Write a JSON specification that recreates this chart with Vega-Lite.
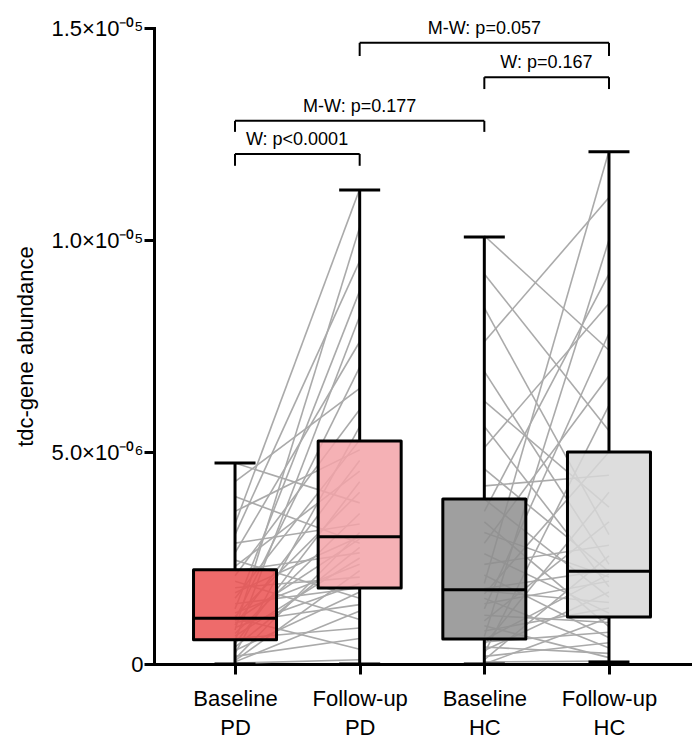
{
  "$schema": "https://vega.github.io/schema/vega-lite/v6.json",
  "width": 536,
  "height": 636,
  "autosize": {"type": "none"},
  "padding": {"left": 154, "top": 28, "right": 3, "bottom": 74},
  "config": {"view": {"stroke": null}, "font": "Liberation Sans"},
  "datasets": {
    "pairs": [
      {"id":"P1","c":"Baseline PD","v":0.02e-6},{"id":"P1","c":"Follow-up PD","v":0.10e-6},
      {"id":"P2","c":"Baseline PD","v":0.05e-6},{"id":"P2","c":"Follow-up PD","v":1.25e-6},
      {"id":"P3","c":"Baseline PD","v":0.08e-6},{"id":"P3","c":"Follow-up PD","v":2.20e-6},
      {"id":"P4","c":"Baseline PD","v":0.12e-6},{"id":"P4","c":"Follow-up PD","v":3.10e-6},
      {"id":"P5","c":"Baseline PD","v":0.18e-6},{"id":"P5","c":"Follow-up PD","v":0.60e-6},
      {"id":"P6","c":"Baseline PD","v":0.25e-6},{"id":"P6","c":"Follow-up PD","v":5.60e-6},
      {"id":"P7","c":"Baseline PD","v":0.32e-6},{"id":"P7","c":"Follow-up PD","v":1.70e-6},
      {"id":"P8","c":"Baseline PD","v":0.40e-6},{"id":"P8","c":"Follow-up PD","v":2.75e-6},
      {"id":"P9","c":"Baseline PD","v":0.48e-6},{"id":"P9","c":"Follow-up PD","v":4.30e-6},
      {"id":"P10","c":"Baseline PD","v":0.55e-6},{"id":"P10","c":"Follow-up PD","v":8.20e-6},
      {"id":"P11","c":"Baseline PD","v":0.60e-6},{"id":"P11","c":"Follow-up PD","v":0.85e-6},
      {"id":"P12","c":"Baseline PD","v":0.66e-6},{"id":"P12","c":"Follow-up PD","v":2.50e-6},
      {"id":"P13","c":"Baseline PD","v":0.72e-6},{"id":"P13","c":"Follow-up PD","v":3.55e-6},
      {"id":"P14","c":"Baseline PD","v":0.80e-6},{"id":"P14","c":"Follow-up PD","v":10.3e-6},
      {"id":"P15","c":"Baseline PD","v":0.86e-6},{"id":"P15","c":"Follow-up PD","v":1.90e-6},
      {"id":"P16","c":"Baseline PD","v":0.92e-6},{"id":"P16","c":"Follow-up PD","v":4.80e-6},
      {"id":"P17","c":"Baseline PD","v":0.98e-6},{"id":"P17","c":"Follow-up PD","v":1.40e-6},
      {"id":"P18","c":"Baseline PD","v":1.02e-6},{"id":"P18","c":"Follow-up PD","v":2.95e-6},
      {"id":"P19","c":"Baseline PD","v":1.05e-6},{"id":"P19","c":"Follow-up PD","v":7.00e-6},
      {"id":"P20","c":"Baseline PD","v":1.08e-6},{"id":"P20","c":"Follow-up PD","v":0.35e-6},
      {"id":"P21","c":"Baseline PD","v":1.12e-6},{"id":"P21","c":"Follow-up PD","v":4.05e-6},
      {"id":"P22","c":"Baseline PD","v":1.20e-6},{"id":"P22","c":"Follow-up PD","v":2.35e-6},
      {"id":"P23","c":"Baseline PD","v":1.30e-6},{"id":"P23","c":"Follow-up PD","v":8.80e-6},
      {"id":"P24","c":"Baseline PD","v":1.42e-6},{"id":"P24","c":"Follow-up PD","v":1.80e-6},
      {"id":"P25","c":"Baseline PD","v":1.55e-6},{"id":"P25","c":"Follow-up PD","v":5.28e-6},
      {"id":"P26","c":"Baseline PD","v":1.68e-6},{"id":"P26","c":"Follow-up PD","v":3.00e-6},
      {"id":"P27","c":"Baseline PD","v":1.80e-6},{"id":"P27","c":"Follow-up PD","v":2.05e-6},
      {"id":"P28","c":"Baseline PD","v":1.95e-6},{"id":"P28","c":"Follow-up PD","v":1.05e-6},
      {"id":"P29","c":"Baseline PD","v":2.08e-6},{"id":"P29","c":"Follow-up PD","v":6.00e-6},
      {"id":"P30","c":"Baseline PD","v":2.20e-6},{"id":"P30","c":"Follow-up PD","v":2.62e-6},
      {"id":"P31","c":"Baseline PD","v":2.30e-6},{"id":"P31","c":"Follow-up PD","v":4.55e-6},
      {"id":"P32","c":"Baseline PD","v":2.45e-6},{"id":"P32","c":"Follow-up PD","v":1.55e-6},
      {"id":"P33","c":"Baseline PD","v":2.62e-6},{"id":"P33","c":"Follow-up PD","v":7.60e-6},
      {"id":"P34","c":"Baseline PD","v":2.85e-6},{"id":"P34","c":"Follow-up PD","v":3.30e-6},
      {"id":"P35","c":"Baseline PD","v":3.05e-6},{"id":"P35","c":"Follow-up PD","v":9.50e-6},
      {"id":"P36","c":"Baseline PD","v":3.30e-6},{"id":"P36","c":"Follow-up PD","v":11.2e-6},
      {"id":"P37","c":"Baseline PD","v":3.60e-6},{"id":"P37","c":"Follow-up PD","v":5.05e-6},
      {"id":"P38","c":"Baseline PD","v":3.95e-6},{"id":"P38","c":"Follow-up PD","v":2.85e-6},
      {"id":"P39","c":"Baseline PD","v":4.30e-6},{"id":"P39","c":"Follow-up PD","v":6.50e-6},
      {"id":"P40","c":"Baseline PD","v":4.74e-6},{"id":"P40","c":"Follow-up PD","v":3.80e-6},
      {"id":"H1","c":"Baseline HC","v":0.00e-6},{"id":"H1","c":"Follow-up HC","v":1.09e-6},
      {"id":"H2","c":"Baseline HC","v":0.05e-6},{"id":"H2","c":"Follow-up HC","v":0.07e-6},
      {"id":"H3","c":"Baseline HC","v":0.10e-6},{"id":"H3","c":"Follow-up HC","v":2.55e-6},
      {"id":"H4","c":"Baseline HC","v":0.18e-6},{"id":"H4","c":"Follow-up HC","v":0.50e-6},
      {"id":"H5","c":"Baseline HC","v":0.25e-6},{"id":"H5","c":"Follow-up HC","v":6.10e-6},
      {"id":"H6","c":"Baseline HC","v":0.32e-6},{"id":"H6","c":"Follow-up HC","v":1.70e-6},
      {"id":"H7","c":"Baseline HC","v":0.40e-6},{"id":"H7","c":"Follow-up HC","v":0.25e-6},
      {"id":"H8","c":"Baseline HC","v":0.46e-6},{"id":"H8","c":"Follow-up HC","v":4.05e-6},
      {"id":"H9","c":"Baseline HC","v":0.52e-6},{"id":"H9","c":"Follow-up HC","v":0.75e-6},
      {"id":"H10","c":"Baseline HC","v":0.57e-6},{"id":"H10","c":"Follow-up HC","v":2.12e-6},
      {"id":"H11","c":"Baseline HC","v":0.65e-6},{"id":"H11","c":"Follow-up HC","v":10.0e-6},
      {"id":"H12","c":"Baseline HC","v":0.78e-6},{"id":"H12","c":"Follow-up HC","v":1.32e-6},
      {"id":"H13","c":"Baseline HC","v":0.90e-6},{"id":"H13","c":"Follow-up HC","v":0.15e-6},
      {"id":"H14","c":"Baseline HC","v":1.02e-6},{"id":"H14","c":"Follow-up HC","v":3.35e-6},
      {"id":"H15","c":"Baseline HC","v":1.15e-6},{"id":"H15","c":"Follow-up HC","v":0.98e-6},
      {"id":"H16","c":"Baseline HC","v":1.30e-6},{"id":"H16","c":"Follow-up HC","v":7.80e-6},
      {"id":"H17","c":"Baseline HC","v":1.42e-6},{"id":"H17","c":"Follow-up HC","v":1.95e-6},
      {"id":"H18","c":"Baseline HC","v":1.55e-6},{"id":"H18","c":"Follow-up HC","v":0.38e-6},
      {"id":"H19","c":"Baseline HC","v":1.65e-6},{"id":"H19","c":"Follow-up HC","v":5.00e-6},
      {"id":"H20","c":"Baseline HC","v":1.72e-6},{"id":"H20","c":"Follow-up HC","v":1.45e-6},
      {"id":"H21","c":"Baseline HC","v":1.78e-6},{"id":"H21","c":"Follow-up HC","v":2.22e-6},
      {"id":"H22","c":"Baseline HC","v":1.90e-6},{"id":"H22","c":"Follow-up HC","v":12.1e-6},
      {"id":"H23","c":"Baseline HC","v":2.10e-6},{"id":"H23","c":"Follow-up HC","v":0.62e-6},
      {"id":"H24","c":"Baseline HC","v":2.35e-6},{"id":"H24","c":"Follow-up HC","v":2.80e-6},
      {"id":"H25","c":"Baseline HC","v":2.60e-6},{"id":"H25","c":"Follow-up HC","v":1.20e-6},
      {"id":"H26","c":"Baseline HC","v":2.85e-6},{"id":"H26","c":"Follow-up HC","v":6.80e-6},
      {"id":"H27","c":"Baseline HC","v":3.10e-6},{"id":"H27","c":"Follow-up HC","v":2.05e-6},
      {"id":"H28","c":"Baseline HC","v":3.35e-6},{"id":"H28","c":"Follow-up HC","v":0.88e-6},
      {"id":"H29","c":"Baseline HC","v":3.60e-6},{"id":"H29","c":"Follow-up HC","v":9.20e-6},
      {"id":"H30","c":"Baseline HC","v":3.89e-6},{"id":"H30","c":"Follow-up HC","v":1.58e-6},
      {"id":"H31","c":"Baseline HC","v":4.20e-6},{"id":"H31","c":"Follow-up HC","v":4.45e-6},
      {"id":"H32","c":"Baseline HC","v":4.60e-6},{"id":"H32","c":"Follow-up HC","v":2.18e-6},
      {"id":"H33","c":"Baseline HC","v":5.10e-6},{"id":"H33","c":"Follow-up HC","v":8.50e-6},
      {"id":"H34","c":"Baseline HC","v":5.60e-6},{"id":"H34","c":"Follow-up HC","v":1.82e-6},
      {"id":"H35","c":"Baseline HC","v":6.20e-6},{"id":"H35","c":"Follow-up HC","v":3.70e-6},
      {"id":"H36","c":"Baseline HC","v":6.90e-6},{"id":"H36","c":"Follow-up HC","v":2.35e-6},
      {"id":"H37","c":"Baseline HC","v":7.60e-6},{"id":"H37","c":"Follow-up HC","v":11.0e-6},
      {"id":"H38","c":"Baseline HC","v":8.40e-6},{"id":"H38","c":"Follow-up HC","v":3.05e-6},
      {"id":"H39","c":"Baseline HC","v":9.20e-6},{"id":"H39","c":"Follow-up HC","v":5.50e-6},
      {"id":"H40","c":"Baseline HC","v":10.1e-6},{"id":"H40","c":"Follow-up HC","v":7.40e-6}
    ],
    "stats": [
      {"c":"Baseline PD","min":0.0,"q1":0.57e-6,"median":1.08e-6,"q3":2.22e-6,"max":4.74e-6},
      {"c":"Follow-up PD","min":0.0,"q1":1.79e-6,"median":3.0e-6,"q3":5.26e-6,"max":11.18e-6},
      {"c":"Baseline HC","min":0.0,"q1":0.59e-6,"median":1.75e-6,"q3":3.89e-6,"max":10.07e-6},
      {"c":"Follow-up HC","min":0.05e-6,"q1":1.11e-6,"median":2.19e-6,"q3":5.0e-6,"max":12.08e-6}
    ],
    "brackets": [
      {"test":"W","label":"W: p<0.0001","from":"Baseline PD","to":"Follow-up PD","mid":"Baseline PD","yt":12.03e-6,"yb":11.75e-6,"ty":12.36e-6},
      {"test":"M-W","label":"M-W: p=0.177","from":"Baseline PD","to":"Baseline HC","mid":"Follow-up PD","yt":12.81e-6,"yb":12.55e-6,"ty":13.14e-6},
      {"test":"W","label":"W: p=0.167","from":"Baseline HC","to":"Follow-up HC","mid":"Baseline HC","yt":13.84e-6,"yb":13.56e-6,"ty":14.17e-6},
      {"test":"M-W","label":"M-W: p=0.057","from":"Follow-up PD","to":"Follow-up HC","mid":"Baseline HC","yt":14.65e-6,"yb":14.34e-6,"ty":14.98e-6}
    ]
  },
  "layer": [
    {
      "data": {"name": "pairs"},
      "mark": {"type": "line", "color": "#aaaaaa", "strokeWidth": 1.6},
      "encoding": {
        "x": {
          "field": "c", "type": "nominal",
          "scale": {"type": "point", "domain": ["Baseline PD", "Follow-up PD", "Baseline HC", "Follow-up HC"], "padding": 0.65},
          "axis": {
            "title": null, "labelAngle": 0, "labelExpr": "split(datum.label, ' ')",
            "labelFontSize": 22, "labelColor": "black", "labelLineHeight": 29, "labelPadding": 14, "labelBaseline": "top",
            "tickSize": 10, "tickWidth": 3, "tickColor": "black", "domainWidth": 3, "domainColor": "black", "domainCap": "square"
          }
        },
        "y": {
          "field": "v", "type": "quantitative",
          "scale": {"domain": [0, 1.5e-5], "nice": false},
          "axis": {
            "title": "tdc-gene abundance", "titleFontSize": 22, "titleFontWeight": "normal", "titleColor": "black", "titlePadding": 13,
            "values": [0, 5e-6, 1e-5, 1.5e-5],
            "labelExpr": "datum.value == 0 ? '0' : (datum.value < 7e-6 ? '5.0×10⁻⁰⁶' : (datum.value < 1.2e-5 ? '1.0×10⁻⁰⁵' : '1.5×10⁻⁰⁵'))",
            "labelFontSize": 22, "labelColor": "black", "labelPadding": 1,
            "tickSize": 10, "tickWidth": 3, "tickColor": "black", "domainWidth": 3, "domainColor": "black", "domainCap": "square", "grid": false
          }
        },
        "detail": {"field": "id"}
      }
    },
    {
      "data": {"name": "stats"},
      "mark": {"type": "rule", "color": "black", "strokeWidth": 3},
      "encoding": {"x": {"field": "c", "type": "nominal"}, "y": {"field": "min", "type": "quantitative"}, "y2": {"field": "q1"}}
    },
    {
      "data": {"name": "stats"},
      "mark": {"type": "rule", "color": "black", "strokeWidth": 3},
      "encoding": {"x": {"field": "c", "type": "nominal"}, "y": {"field": "q3", "type": "quantitative"}, "y2": {"field": "max"}}
    },
    {
      "data": {"name": "stats"},
      "mark": {"type": "bar", "width": 83, "stroke": "black", "strokeWidth": 3, "fillOpacity": 0.85, "strokeJoin": "round"},
      "encoding": {
        "x": {"field": "c", "type": "nominal"},
        "y": {"field": "q1", "type": "quantitative"},
        "y2": {"field": "q3"},
        "fill": {"field": "c", "type": "nominal", "legend": null,
          "scale": {"domain": ["Baseline PD", "Follow-up PD", "Baseline HC", "Follow-up HC"], "range": ["#eb5151", "#f3a3a8", "#8e8e8e", "#d7d7d7"]}}
      }
    },
    {
      "data": {"name": "stats"},
      "mark": {"type": "tick", "orient": "horizontal", "size": 83, "thickness": 3, "color": "black", "opacity": 1},
      "encoding": {"x": {"field": "c", "type": "nominal"}, "y": {"field": "median", "type": "quantitative"}}
    },
    {
      "data": {"name": "stats"},
      "mark": {"type": "tick", "orient": "horizontal", "size": 41, "thickness": 3, "color": "black", "opacity": 1},
      "encoding": {"x": {"field": "c", "type": "nominal"}, "y": {"field": "max", "type": "quantitative"}}
    },
    {
      "data": {"name": "stats"},
      "mark": {"type": "tick", "orient": "horizontal", "size": 41, "thickness": 3, "color": "black", "opacity": 1},
      "encoding": {"x": {"field": "c", "type": "nominal"}, "y": {"field": "min", "type": "quantitative"}}
    },
    {
      "data": {"name": "brackets"},
      "mark": {"type": "rule", "color": "black", "strokeWidth": 2},
      "encoding": {"x": {"field": "from", "type": "nominal"}, "x2": {"field": "to"}, "y": {"field": "yt", "type": "quantitative"}}
    },
    {
      "data": {"name": "brackets"},
      "mark": {"type": "rule", "color": "black", "strokeWidth": 2},
      "encoding": {"x": {"field": "from", "type": "nominal"}, "y": {"field": "yt", "type": "quantitative"}, "y2": {"field": "yb"}}
    },
    {
      "data": {"name": "brackets"},
      "mark": {"type": "rule", "color": "black", "strokeWidth": 2},
      "encoding": {"x": {"field": "to", "type": "nominal"}, "y": {"field": "yt", "type": "quantitative"}, "y2": {"field": "yb"}}
    },
    {
      "data": {"name": "brackets"},
      "transform": [{"filter": "datum.test == 'M-W'"}],
      "mark": {"type": "text", "fontSize": 18, "color": "black", "align": "center", "baseline": "middle"},
      "encoding": {"x": {"field": "mid", "type": "nominal"}, "y": {"field": "ty", "type": "quantitative"}, "text": {"field": "label"}}
    },
    {
      "data": {"name": "brackets"},
      "transform": [{"filter": "datum.test == 'W'"}],
      "mark": {"type": "text", "fontSize": 18, "color": "black", "align": "center", "baseline": "middle", "dx": 62},
      "encoding": {"x": {"field": "mid", "type": "nominal"}, "y": {"field": "ty", "type": "quantitative"}, "text": {"field": "label"}}
    }
  ]
}
